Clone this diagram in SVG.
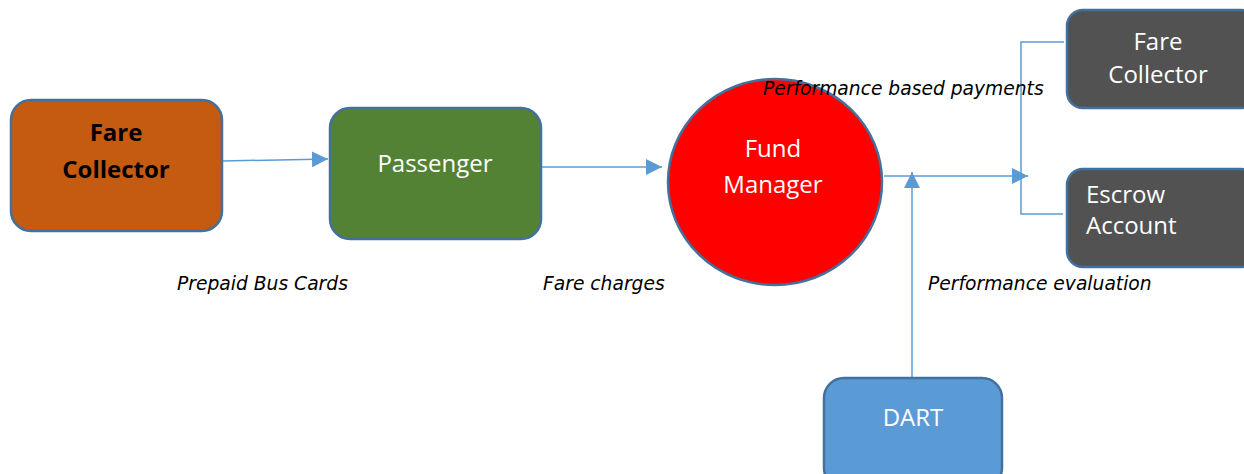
<svg xmlns="http://www.w3.org/2000/svg" width="1244" height="474" viewBox="0 0 1244 474">
<style>
.n{stroke:#41719C;stroke-width:2.5}
.t{font-family:"Open Sans","DejaVu Sans",sans-serif;font-size:24px;fill:#fff;text-anchor:middle}
.s{text-anchor:start}
.l{font-family:"DejaVu Sans",sans-serif;font-size:18.7px;font-style:italic;fill:#000}
.c{stroke:#5B9BD5;stroke-width:1.5;fill:none}
</style>
<defs>
<marker id="b" viewBox="0 0 16 16" refX="16" refY="8" markerWidth="16" markerHeight="16" markerUnits="userSpaceOnUse" orient="auto"><path d="M0,0L16,8L0,16z" fill="#5B9BD5"/></marker>
</defs>
<rect width="1244" height="474" fill="#fff"/>
<g id="connectors">
<line class="c" x1="223" y1="161" x2="328" y2="159" marker-end="url(#b)"/>
<line class="c" x1="541" y1="167" x2="662" y2="167" marker-end="url(#b)"/>
<line class="c" x1="884" y1="176" x2="1028" y2="176" marker-end="url(#b)"/>
<line class="c" x1="912" y1="378" x2="912" y2="172" marker-end="url(#b)"/>
<path class="c" d="M1064,42H1021V214H1063"/>
</g>
<g id="fare-collector-1">
<rect class="n" x="11" y="100" width="211" height="131" rx="20" fill="#C55A11"/>
<text x="116" y="141" font-family="'Open Sans','DejaVu Sans',sans-serif" font-size="24" font-weight="bold" text-anchor="middle" fill="#000">Fare</text>
<text x="116" y="178" font-family="'Open Sans','DejaVu Sans',sans-serif" font-size="24" font-weight="bold" text-anchor="middle" fill="#000">Collector</text>
</g>
<g id="passenger">
<rect class="n" x="330" y="108" width="211" height="131" rx="20" fill="#548235"/>
<text class="t" x="435" y="172">Passenger</text>
</g>
<g id="fund-manager">
<ellipse class="n" cx="775" cy="182" rx="107" ry="103" fill="#FF0000"/>
<text class="t" x="773" y="157">Fund</text>
<text class="t" x="773" y="193">Manager</text>
</g>
<g id="fare-collector-2">
<rect class="n" x="1067" y="10" width="190" height="98" rx="16" fill="#525252"/>
<text class="t" x="1158" y="50">Fare</text>
<text class="t" x="1158" y="83">Collector</text>
</g>
<g id="escrow-account">
<rect class="n" x="1067" y="169" width="190" height="98" rx="16" fill="#525252"/>
<text class="t s" x="1086" y="203">Escrow</text>
<text class="t s" x="1086" y="234">Account</text>
</g>
<g id="dart">
<rect class="n" x="824" y="378" width="178" height="110" rx="20" fill="#5B9BD5"/>
<text class="t" x="913" y="426">DART</text>
</g>
<g id="labels">
<text class="l" x="177" y="290">Prepaid Bus Cards</text>
<text class="l" x="543" y="290">Fare charges</text>
<text class="l" x="928" y="290">Performance evaluation</text>
<text class="l" x="763" y="95">Performance based payments</text>
</g>
</svg>
